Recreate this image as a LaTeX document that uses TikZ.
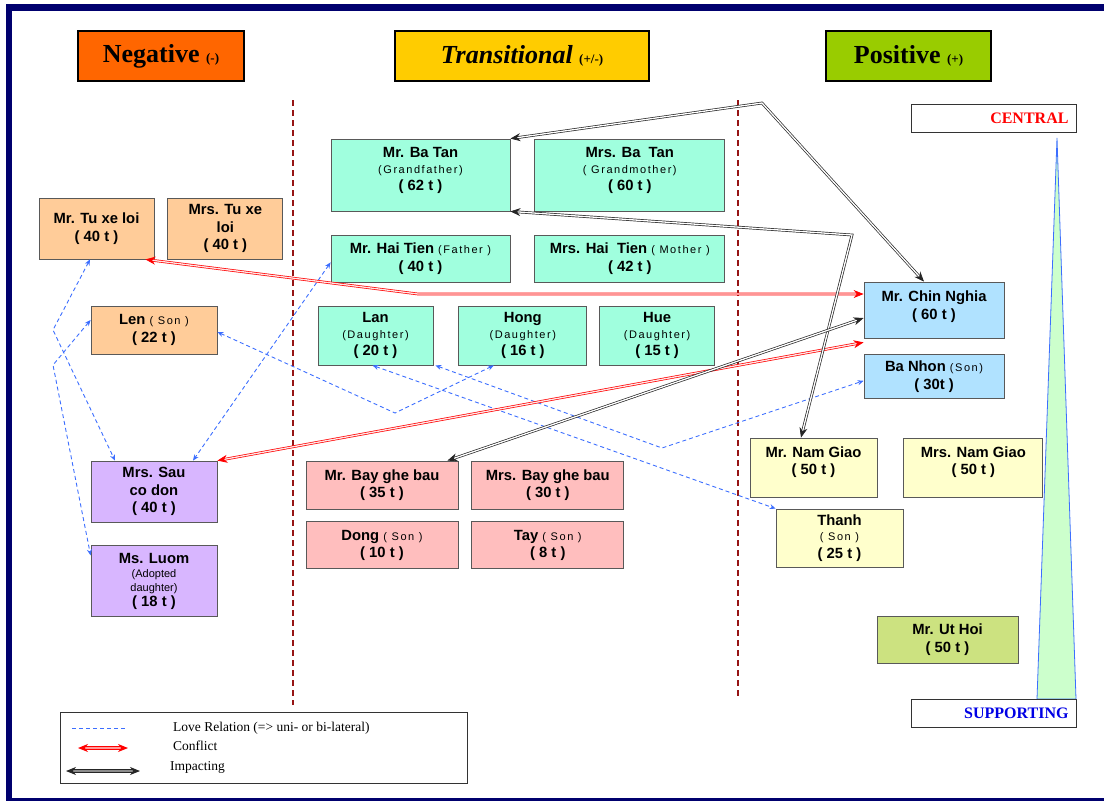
\documentclass[tikz,border=0pt]{standalone}
\usepackage{fontspec}
\setmainfont{Liberation Serif}
\setsansfont{Liberation Sans}
\newfontfamily\spacedfont[LetterSpace=14]{Liberation Sans}
\usetikzlibrary{arrows.meta, positioning, calc}
\definecolor{framenavy}{RGB}{0,0,110}
\definecolor{negorange}{RGB}{255,102,0}
\definecolor{transyellow}{RGB}{255,204,0}
\definecolor{posgreen}{RGB}{153,204,0}
\definecolor{peach}{RGB}{255,204,153}
\definecolor{mint}{RGB}{160,255,222}
\definecolor{lavender}{RGB}{216,182,255}
\definecolor{rosy}{RGB}{255,190,190}
\definecolor{skyblue}{RGB}{176,226,255}
\definecolor{paleyellow}{RGB}{255,255,204}
\definecolor{olivegreen}{RGB}{204,226,128}
\definecolor{loveblue}{RGB}{60,110,255}
\definecolor{sepred}{RGB}{150,20,20}
\definecolor{trigreen}{RGB}{204,255,204}
\newcommand{\nm}{\fontsize{14.8}{17.5}\selectfont\sffamily\bfseries}
\newcommand{\rl}[1]{{\spacedfont\mdseries\fontsize{11}{13}\selectfont #1}}
\newcommand{\rs}[1]{{\sffamily\mdseries\fontsize{11}{12}\selectfont #1}}

\begin{document}
\begin{tikzpicture}[
    x=1pt, y=1pt,
    header/.style={draw=black, line width=1.6pt, minimum width=#1pt, minimum height=50pt, font=\fontsize{26}{26}\selectfont\bfseries},
    person/.style 2 args={draw=black!65, line width=0.8pt, align=center, font=\nm, inner sep=2pt, minimum width=#1pt, minimum height=#2pt},
    tagbox/.style={draw=black!80, line width=1pt, fill=white, minimum width=165pt, minimum height=28pt, text width=150pt, align=right, font=\fontsize{16}{16}\selectfont\bfseries},
    separator/.style={sepred, line width=1.6pt, dash pattern=on 6pt off 4pt},
    love/.style={loveblue, line width=0.9pt, dash pattern=on 4pt off 3pt, {Stealth[length=6pt,width=5pt]}-{Stealth[length=6pt,width=5pt]}},
    conflict/.style={draw=red, double=red!10, double distance=1.3pt, line width=0.7pt, {Stealth[length=10pt,width=8pt]}-{Stealth[length=10pt,width=8pt]}},
    impact/.style={draw=black!85, double=white, double distance=1.3pt, line width=0.7pt, {Stealth[length=10pt,width=8pt]}-{Stealth[length=10pt,width=8pt]}},
    legtext/.style={anchor=west, font=\fontsize{13.5}{14}\selectfont, inner sep=0pt},
]
\useasboundingbox (0,0) rectangle (1104,-801);

% frame
\fill[framenavy] (6,-4) rectangle (1104,-11);
\fill[framenavy] (6,-4) rectangle (12,-801);
\fill[framenavy] (6,-798) rectangle (1104,-800.5);

% column headers
\node[header=166, fill=negorange] (neg) at (161,-56) {Negative {\fontsize{13}{13}\selectfont(-)}};
\node[header=254, fill=transyellow] (trans) at (522,-56) {\textit{Transitional} {\fontsize{13}{13}\selectfont(+/-)}};
\node[header=165, fill=posgreen] (pos) at (908.5,-56) {Positive {\fontsize{13}{13}\selectfont(+)}};

\draw[separator] (293,-100) -- (293,-705);
\draw[separator] (738,-100) -- (738,-697);

% central / supporting scale
\filldraw[fill=trigreen, draw=loveblue, line width=0.8pt] (1037,-699) -- (1057,-138) -- (1076,-699) -- cycle;
\node[tagbox, text=red] (central) at (993.5,-118) {CENTRAL};
\node[tagbox, text=blue!90!black] (supporting) at (993.5,-713.5) {SUPPORTING};

% negative side
\node[person={115}{61}, fill=peach] (tuxeloi) at (96.5,-228.5) {Mr. Tu xe loi\\( 40 t )};
\node[person={115}{61}, fill=peach, right=13pt of tuxeloi] (mrstuxeloi) {Mrs. Tu xe\\loi\\( 40 t )};
\node[person={126}{48}, fill=peach] (len) at (154,-330) {Len \rl{( Son )}\\( 22 t )};
\node[person={126}{61}, fill=lavender] (sau) at (154,-491.5) {Mrs. Sau\\co don\\( 40 t )};
\node[person={126}{71}, fill=lavender, below=23pt of sau] (luom) {Ms. Luom\\[-3pt]\rs{(Adopted}\\[-4pt]\rs{daughter)}\\[-2pt]( 18 t )};

% transitional side
\node[person={179}{72}, fill=mint] (batan) at (420.5,-175) {Mr. Ba Tan\\[-2pt]\rl{(Grandfather)}\\( 62 t )\\[-6pt]\mbox{}};
\node[person={190}{72}, fill=mint, right=24pt of batan] (mrsbatan) {Mrs. Ba\ \ Tan\\[-2pt]\rl{( Grandmother)}\\( 60 t )\\[-6pt]\mbox{}};
\node[person={179}{47}, fill=mint] (haitien) at (420.5,-258.5) {Mr. Hai Tien \rl{(Father )}\\( 40 t )};
\node[person={190}{47}, fill=mint, right=24pt of haitien] (mrshaitien) {Mrs. Hai\ \ Tien \rl{( Mother )}\\( 42 t )};
\node[person={115}{59}, fill=mint] (lan) at (375.5,-335.5) {Lan\\[-2pt]\rl{(Daughter)}\\( 20 t )};
\node[person={128}{59}, fill=mint, right=25pt of lan] (hong) {Hong\\[-2pt]\rl{(Daughter)}\\( 16 t )};
\node[person={115}{59}, fill=mint, right=12pt of hong] (hue) {Hue\\[-2pt]\rl{(Daughter)}\\( 15 t )};
\node[person={152}{48}, fill=rosy] (baybau) at (382,-485) {Mr. Bay ghe bau\\( 35 t )};
\node[person={152}{48}, fill=rosy, right=13pt of baybau] (mrsbaybau) {Mrs. Bay ghe bau\\( 30 t )};
\node[person={152}{47}, fill=rosy, below=12pt of baybau] (dong) {Dong \rl{( Son )}\\( 10 t )};
\node[person={152}{47}, fill=rosy, right=13pt of dong] (tay) {Tay \rl{( Son )}\\( 8 t )};

% positive side
\node[person={140}{56}, fill=skyblue] (chinnghia) at (934,-310) {Mr. Chin Nghia\\( 60 t )\\[-8pt]\mbox{}};
\node[person={140}{44}, fill=skyblue, below=16pt of chinnghia] (banhon) {Ba Nhon \rl{(Son)}\\( 30t )};
\node[person={127}{59}, fill=paleyellow] (namgiao) at (813.5,-467.5) {Mr. Nam Giao\\( 50 t )\\[-4pt]\mbox{}};
\node[person={139}{59}, fill=paleyellow, right=26pt of namgiao] (mrsnamgiao) {Mrs. Nam Giao\\( 50 t )\\[-4pt]\mbox{}};
\node[person={127}{58}, fill=paleyellow] (thanh) at (839.5,-538) {Thanh\\[-2pt]\rl{( Son )}\\( 25 t )};
\node[person={141}{47}, fill=olivegreen] (uthoi) at (947.5,-639.5) {Mr. Ut Hoi\\( 50 t )};

% love relations
\coordinate (tubend) at (53,-330);
\coordinate (lenbend) at (53,-365);
\coordinate (hongbend) at (395,-413);
\coordinate (nhonbend) at (662,-448);
\draw[love] ([xshift=-6.5pt]tuxeloi.south) -- (tubend) -- ([xshift=-39pt]sau.north);
\draw[love] ([yshift=10pt]len.west) -- (lenbend) -- ([yshift=-10pt]luom.north west);
\draw[love] ([yshift=20pt]haitien.south west) -- ([xshift=39pt]sau.north);
\draw[love] ([yshift=-2pt]len.east) -- (hongbend) -- ([xshift=-29pt]hong.south);
\draw[love] ([xshift=-3pt]lan.south) -- (thanh.north west);
\draw[love] ([xshift=2pt]lan.south east) -- (nhonbend) -- ([yshift=-4pt]banhon.west);

% conflicts
\coordinate (conflictbend) at (418,-294);
\draw[conflict] ([xshift=-9pt]tuxeloi.south east) -- (conflictbend) -- ([yshift=16pt]chinnghia.west);
\draw[conflict] (sau.north east) -- ([yshift=-4pt]chinnghia.south west);

% impacting
\coordinate (topbend) at (762,-103);
\coordinate (midbend) at (852,-235);
\draw[impact] (batan.north east) -- (topbend) -- ([xshift=-10pt]chinnghia.north);
\draw[impact] (batan.south east) -- (midbend) -- ([xshift=-12.5pt]namgiao.north);
\draw[impact] ([xshift=-11pt]baybau.north east) -- ([yshift=-8pt]chinnghia.west);

% legend
\node[draw=black!80, line width=0.8pt, minimum width=407pt, minimum height=71pt] (legend) at (263.5,-747.5) {};
\coordinate (lovea) at (72,-728);
\coordinate (loveb) at (127,-728);
\coordinate (conflicta) at (78,-748);
\coordinate (conflictb) at (128,-748);
\coordinate (impacta) at (66,-771);
\coordinate (impactb) at (140,-771);
\draw[love, -] (lovea) -- (loveb);
\draw[conflict, line width=1.2pt, double=red!40] (conflicta) -- (conflictb);
\draw[impact, line width=1pt, double=black!45] (impacta) -- (impactb);
\node[legtext] (lovetext) at (173,-728) {Love Relation (=> uni- or bi-lateral)};
\node[legtext] (conflicttext) at (173,-746) {Conflict};
\node[legtext] (impacttext) at (170,-767) {Impacting};
\end{tikzpicture}
\end{document}
